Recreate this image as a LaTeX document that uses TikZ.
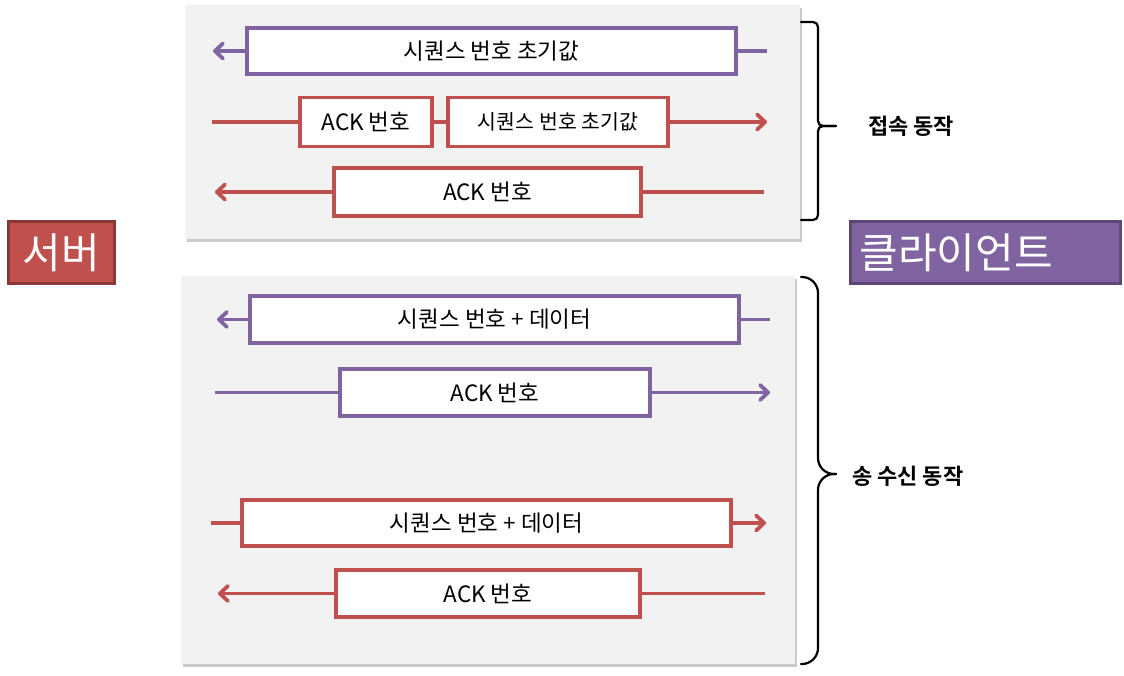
\documentclass[tikz,border=0pt]{standalone}
\usepackage{fontspec}
\setmainfont{Noto Sans CJK KR}[BoldFont={Noto Sans CJK KR Bold}]
\usetikzlibrary{arrows.meta,shadows}
\definecolor{myred}{HTML}{C0504D}
\definecolor{mypurple}{HTML}{8064A2}
\definecolor{redborder}{HTML}{8C3836}
\definecolor{purpleborder}{HTML}{5C4776}
\definecolor{panel}{HTML}{F2F2F2}
\tikzset{
  panelbox/.style={fill=panel, draw=none, drop shadow={shadow xshift=1.5pt, shadow yshift=-2.5pt, opacity=0.35, fill=black!60}},
  msg/.style={draw=#1, line width=3.6pt, fill=white, inner sep=0pt, font=\fontsize{22.5}{24}\selectfont},
  wire/.style={draw=#1, line width=3.8pt},
  arr/.style={draw=#1, line width=3.8pt, -{Straight Barb[length=8pt,width=15pt,line cap=round,line join=round]}},
  bracket/.style={draw=black, line width=2.2pt, line cap=round},
  grouplabel/.style={font=\fontsize{22}{24}\selectfont\bfseries, anchor=west, inner sep=0pt},
  party/.style={draw=#1, line width=3pt, text=white, inner sep=0pt, font=\fontsize{42}{44}\selectfont},
}
\begin{document}
\begin{tikzpicture}[x=1pt,y=-1pt]
\useasboundingbox (0,0) rectangle (1124,675);
% panels
\path[panelbox] (185,5) rectangle (800,239);
\path[panelbox] (181,276) rectangle (795,664);

% top panel row 1
\node[msg=mypurple, minimum width=489pt, minimum height=46pt] (t1) at (491.5,51) {시퀀스 번호 초기값};
\coordinate (t1r) at (767,51);
\coordinate (t1l) at (213,51);
\draw[wire=mypurple] (t1r) -- (t1.east);
\draw[arr=mypurple] (t1.west) -- (t1l);

% top panel row 2
\node[msg=myred, minimum width=132pt, minimum height=49pt] (t2a) at (366,122) {ACK 번호};
\node[msg=myred, minimum width=220pt, minimum height=49pt, font=\fontsize{20.5}{22}\selectfont] (t2b) at (558,122) {시퀀스 번호 초기값};
\coordinate (t2l) at (212,122);
\coordinate (t2r) at (767,122);
\draw[wire=myred] (t2l) -- (t2a.west);
\draw[wire=myred] (t2a.east) -- (t2b.west);
\draw[arr=myred] (t2b.east) -- (t2r);

% top panel row 3
\node[msg=myred, minimum width=307pt, minimum height=48pt] (t3) at (487.5,192) {ACK 번호};
\coordinate (t3r) at (764,192);
\coordinate (t3l) at (215,192);
\draw[wire=myred] (t3r) -- (t3.east);
\draw[arr=myred] (t3.west) -- (t3l);

% bottom panel row 1
\node[msg=mypurple, minimum width=489pt, minimum height=47pt] (b1) at (494.5,319.5) {시퀀스 번호 + 데이터};
\coordinate (b1r) at (770,319.5);
\coordinate (b1l) at (217,319.5);
\draw[wire=mypurple] (b1r) -- (b1.east);
\draw[arr=mypurple] (b1.west) -- (b1l);

% bottom panel row 2
\node[msg=mypurple, minimum width=310pt, minimum height=47pt] (b2) at (495,392.5) {ACK 번호};
\coordinate (b2l) at (215,392.5);
\coordinate (b2r) at (770,392.5);
\draw[wire=mypurple] (b2l) -- (b2.west);
\draw[arr=mypurple] (b2.east) -- (b2r);

% bottom panel row 3
\node[msg=myred, minimum width=489pt, minimum height=46pt] (b3) at (486.5,523) {시퀀스 번호 + 데이터};
\coordinate (b3l) at (211,523);
\coordinate (b3r) at (766,523);
\draw[wire=myred] (b3l) -- (b3.west);
\draw[arr=myred] (b3.east) -- (b3r);

% bottom panel row 4
\node[msg=myred, minimum width=304pt, minimum height=47pt] (b4) at (488,593.5) {ACK 번호};
\coordinate (b4r) at (765,593.5);
\coordinate (b4l) at (218,593.5);
\draw[wire=myred] (b4r) -- (b4.east);
\draw[arr=myred] (b4.west) -- (b4l);

% brackets
\coordinate (k1t) at (801,22);
\coordinate (k1b) at (801,220);
\coordinate (k1m) at (836,126);
\draw[bracket, rounded corners=5pt] (k1t) -- (818,22) -- (818,126) -- (k1m);
\draw[bracket, rounded corners=5pt] (k1b) -- (818,220) -- (818,126) -- (k1m);
\node[grouplabel] (l1) at (868,126) {접속 동작};

\coordinate (k2t) at (801,277);
\coordinate (k2b) at (801,664);
\coordinate (k2m) at (836,474);
\draw[bracket, rounded corners=16pt] (k2t) -- (818,277) -- (818,474) -- (k2m);
\draw[bracket, rounded corners=16pt] (k2b) -- (818,664) -- (818,474) -- (k2m);
\node[grouplabel] (l2) at (852,476) {송 수신 동작};

% parties
\node[party=redborder, fill=myred, minimum width=106pt, minimum height=62pt] (server) at (61,252.5) {서버};
\node[party=purpleborder, fill=mypurple, minimum width=270pt, minimum height=62pt, text width=252pt, align=left] (client) at (985.5,252.5) {클라이언트};
\end{tikzpicture}
\end{document}
